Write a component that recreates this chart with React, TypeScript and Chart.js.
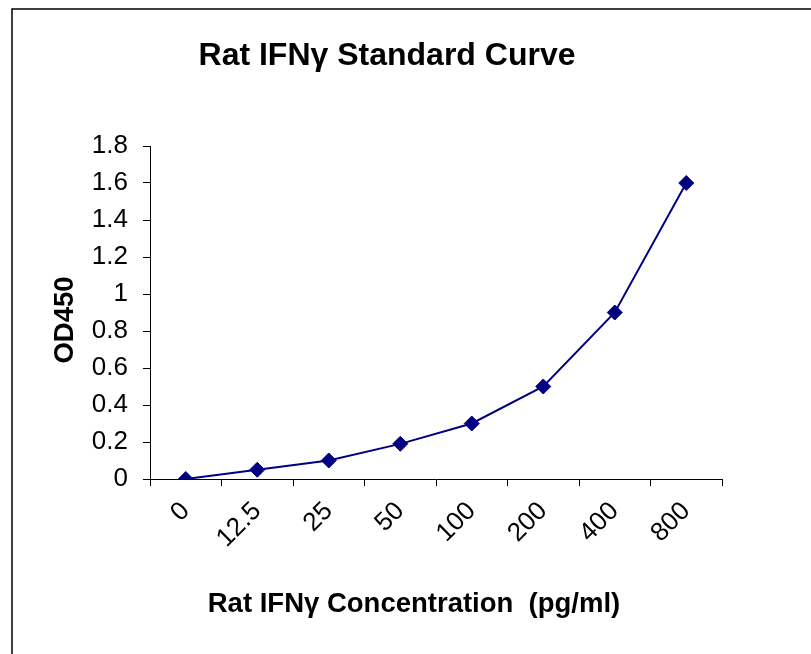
import React, { useEffect, useRef } from "react";
import { Chart, registerables } from "chart.js";

Chart.register(...registerables);

const categories: string[] = ["0", "12.5", "25", "50", "100", "200", "400", "800"];
const od450: number[] = [0, 0.05, 0.1, 0.19, 0.3, 0.5, 0.9, 1.6];
const yMin = 0;
const yMax = 1.8;
const yStep = 0.2;

const chartTitle = "Rat IFN\u03b3 Standard Curve";
const xTitle = "Rat IFN\u03b3 Concentration  (pg/ml)";
const yTitle = "OD450";

const FONT = "'Liberation Sans', Arial, sans-serif";
const NAVY = "#000080";

const decorPlugin = {
  id: "decor",
  afterDraw(chart: any) {
    const ctx = chart.ctx;
    ctx.save();
    // outer frame (left and top edges visible)
    ctx.strokeStyle = "#000";
    ctx.lineWidth = 1.5;
    ctx.beginPath();
    ctx.moveTo(12, 654);
    ctx.lineTo(12, 9);
    ctx.lineTo(811, 9);
    ctx.stroke();

    ctx.fillStyle = "#000";
    // chart title
    ctx.font = `bold 32px ${FONT}`;
    ctx.textAlign = "center";
    ctx.textBaseline = "alphabetic";
    ctx.fillText(chartTitle, 387, 65);

    // x axis title
    ctx.font = `bold 27.5px ${FONT}`;
    ctx.fillText(xTitle, 414, 612);

    // y axis title
    ctx.translate(73, 320);
    ctx.rotate(-Math.PI / 2);
    ctx.fillText(yTitle, 0, 0);
    ctx.restore();
  },
};

export default function App() {
  const ref = useRef<HTMLCanvasElement | null>(null);

  useEffect(() => {
    if (!ref.current) return;
    const chart = new Chart(ref.current, {
      type: "line",
      data: {
        labels: categories,
        datasets: [
          {
            data: od450,
            borderColor: NAVY,
            backgroundColor: NAVY,
            borderWidth: 2,
            pointStyle: "rectRot",
            pointRadius: 7.5,
            pointBorderWidth: 1,
            pointBackgroundColor: NAVY,
            pointBorderColor: NAVY,
            tension: 0,
          },
        ],
      },
      options: {
        animation: false,
        responsive: false,
        maintainAspectRatio: false,
        layout: { padding: { left: 0, top: 146, right: 89, bottom: 0 } },
        plugins: {
          legend: { display: false },
          title: { display: false },
          tooltip: { enabled: false },
        },
        scales: {
          x: {
            type: "category",
            offset: true,
            afterFit: (scale: any) => {
              scale.height = 175;
            },
            grid: {
              offset: true,
              drawOnChartArea: false,
              drawTicks: true,
              tickLength: 7,
              color: "#000",
            },
            border: { display: true, color: "#000", width: 1 },
            ticks: {
              color: "#000",
              font: { family: FONT, size: 26 },
              minRotation: 45,
              maxRotation: 45,
              padding: 10,
              autoSkip: false,
            },
          },
          y: {
            min: yMin,
            max: yMax,
            afterFit: (scale: any) => {
              scale.width = 150;
            },
            grid: {
              drawOnChartArea: false,
              drawTicks: true,
              tickLength: 7,
              color: "#000",
            },
            border: { display: true, color: "#000", width: 1 },
            ticks: {
              stepSize: yStep,
              color: "#000",
              font: { family: FONT, size: 26 },
              padding: 15,
              callback: (v: any) => String(Math.round(Number(v) * 10) / 10),
            },
          },
        },
      },
      plugins: [decorPlugin],
    });
    return () => chart.destroy();
  }, []);

  return (
    <div style={{ position: "absolute", left: 0, top: 0, width: 811, height: 654, background: "#fff" }}>
      <canvas ref={ref} width={811} height={654} style={{ display: "block" }} />
    </div>
  );
}
